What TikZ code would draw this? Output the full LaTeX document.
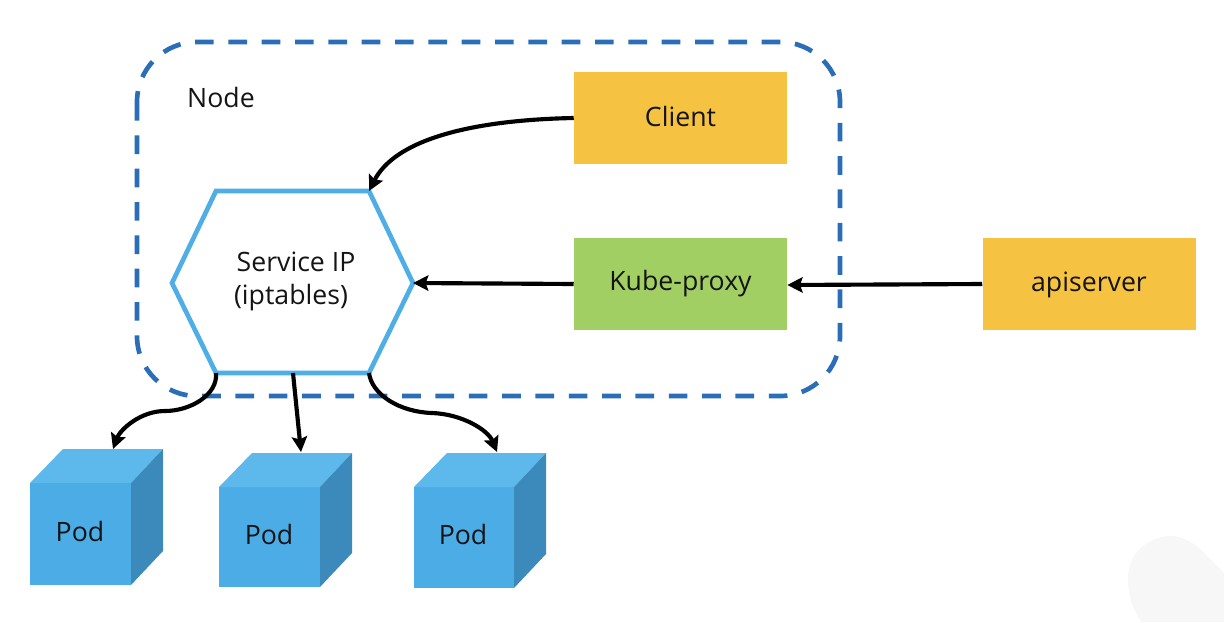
\documentclass[tikz,border=0pt]{standalone}
\usepackage{fontspec}
\setmainfont{Open Sans}
\usetikzlibrary{arrows.meta,calc}
\definecolor{dashblue}{HTML}{2A6EB8}
\definecolor{hexblue}{HTML}{4FAEE6}
\definecolor{cubefront}{HTML}{4BACE6}
\definecolor{cubetop}{HTML}{5DB9EB}
\definecolor{cubeside}{HTML}{3C8ABC}
\definecolor{boxyellow}{HTML}{F5C242}
\definecolor{boxgreen}{HTML}{A2CF63}
\definecolor{blobgrey}{HTML}{F7F7F7}
\tikzset{
  x=0.75pt,y=-0.75pt,
  conn/.style={draw=black,line width=3.1pt,-{Stealth[length=11.5pt,width=11.5pt,inset=2pt]}},
  bigbox/.style={draw=none,minimum width=159.75pt,minimum height=69pt,inner sep=0pt},
  lbl/.style={inner sep=0pt,text=black!92,font=\fontsize{20pt}{24pt}\selectfont},
  cubef/.style={fill=cubefront},
  cubet/.style={fill=cubetop},
  cubes/.style={fill=cubeside},
}
\newcommand{\podcube}[5]{% name, left, front top, front right, front bottom
  \fill[cubef] (#2,#3) rectangle (#4,#5);
  \fill[cubet] (#2,#3) -- ({#2+33},{#3-34}) -- ({#4+32},{#3-34}) -- (#4,#3) -- cycle;
  \fill[cubes] (#4,#3) -- ({#4+32},{#3-34}) -- ({#4+32},{#5-34}) -- (#4,#5) -- cycle;
}
\begin{document}
\begin{tikzpicture}
\useasboundingbox (0,0) rectangle (1224,622);
\fill[blobgrey] (1141,622) .. controls (1130,605) and (1128,590) .. (1128,578)
  .. controls (1128,552) and (1150,536) .. (1171,536)
  .. controls (1185,536) and (1198,546) .. (1206,555) -- (1224,573) -- (1224,622) -- cycle;
% node frame
\draw[dashblue,line width=3.5pt,dash pattern=on 14pt off 11pt,rounded corners=45pt]
  (137,42) rectangle (840,396);
\node[lbl] (nodelabel) at (221,97) {Node};
% boxes
\node[bigbox,fill=boxyellow] (client) at (680.5,118) {};
\node[lbl] (clienttext) at (680.5,116) {Client};
\node[bigbox,fill=boxgreen] (proxy) at (680.5,284) {};
\node[lbl] (proxytext) at (680.5,284) {Kube-proxy};
\node[bigbox,fill=boxyellow] (api) at (1089,284) {};
\node[lbl] (apitext) at (1089,285) {apiserver};
% hexagon
\coordinate (hextl) at (216,191);
\coordinate (hextr) at (369,191);
\coordinate (hexr) at (413,283);
\coordinate (hexbr) at (369,373);
\coordinate (hexbl) at (216,373);
\coordinate (hexl) at (172,283);
\coordinate (hexb) at (293,373);
\draw[hexblue,line width=3.5pt,line join=miter] (hextl) -- (hextr) -- (hexr) -- (hexbr) -- (hexbl) -- (hexl) -- cycle;
\node[lbl] (svc1) at (296,262) {Service IP};
\node[lbl] (svc2) at (291,298) {(iptables)};
% cubes
\podcube{a}{30}{483}{131}{585}
\podcube{b}{219}{487}{320}{587}
\podcube{c}{414}{487}{514}{588}
\coordinate (poda) at (113,449);
\coordinate (podb) at (301,452);
\coordinate (podc) at (497,452);
\node[lbl] (pod1) at (80,531) {Pod};
\node[lbl] (pod2) at (269,534) {Pod};
\node[lbl] (pod3) at (463,534) {Pod};
% connectors
\draw[conn] (client.west |- 0,118) .. controls (470,120) and (395,140) .. (hextr);
\draw[conn] (proxy.west) -- (hexr);
\draw[conn] (api.west) -- ($(proxy.east)+(0,1)$);
\draw[conn] (hexbl) .. controls (218,395) and (190,411) .. (165,411) .. controls (140,411) and (120,430) .. (poda);
\draw[conn] (hexb) -- (podb);
\draw[conn] (hexbr) .. controls (372,395) and (400,412) .. (432,413) .. controls (462,414) and (488,430) .. (podc);
\end{tikzpicture}
\end{document}
